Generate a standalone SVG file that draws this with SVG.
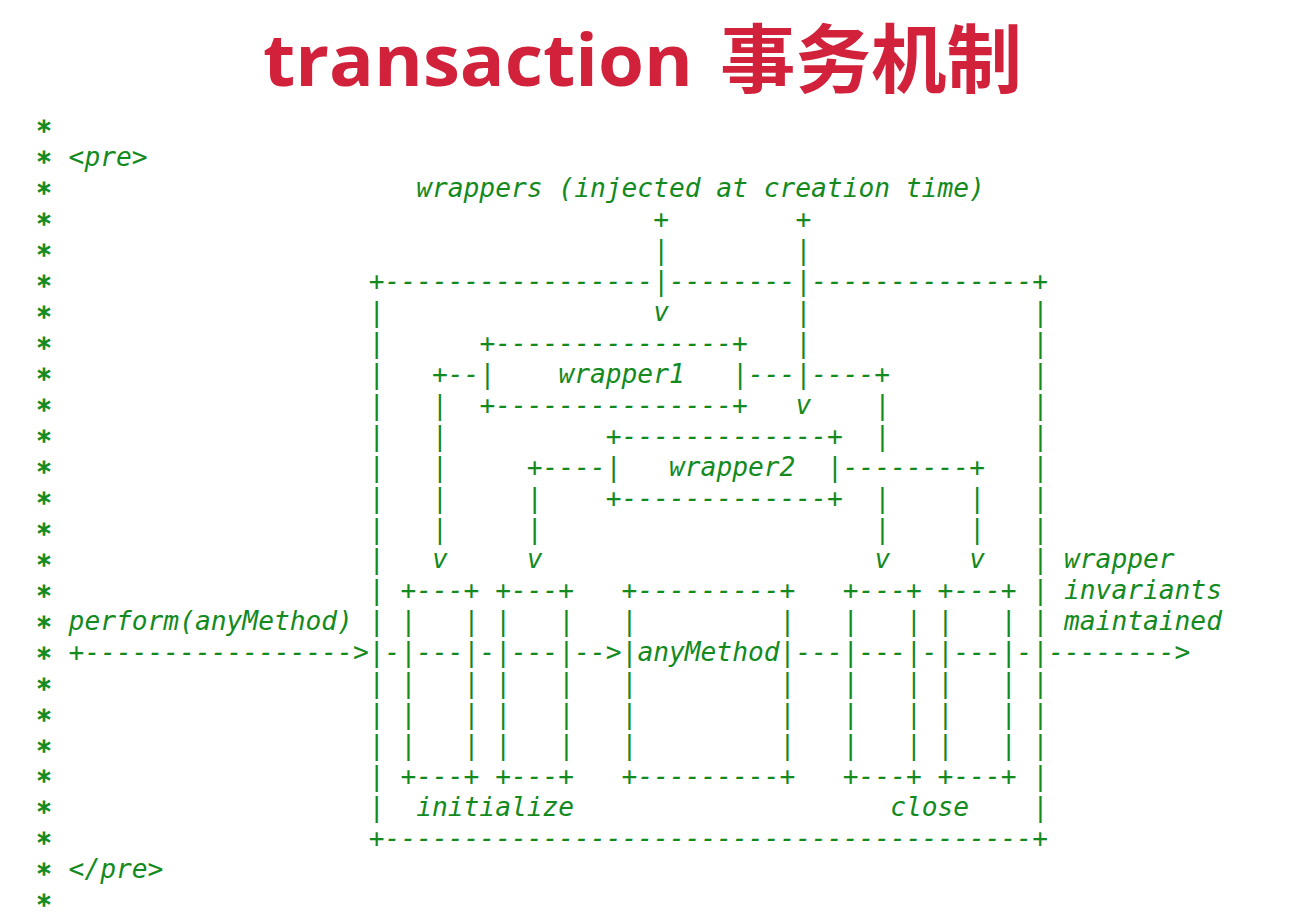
<svg xmlns="http://www.w3.org/2000/svg" width="1306" height="917" viewBox="0 0 1306 917">
<style>
  .t { font-family: "DejaVu Sans Mono", "Liberation Mono", monospace; font-size: 26.24px; font-style: italic; fill: #138a1e; white-space: pre; }
  .star { font-family: "DejaVu Sans Mono", "Liberation Mono", monospace; font-size: 26.5px; fill: #138a1e; stroke: #138a1e; stroke-width: 1px; text-anchor: middle; }
  .title { font-family: "Open Sans", "Noto Sans", sans-serif; font-weight: 700; font-size: 72px; fill: #d1213b; }
  .titlecjk { font-family: "Noto Sans CJK SC", sans-serif; font-weight: 700; font-size: 75px; fill: #d1213b; }
</style>
<rect width="1306" height="917" fill="#ffffff"/>
<g id="title">
  <text class="title" x="263" y="86" textLength="430" lengthAdjust="spacingAndGlyphs">transaction</text>
  <text class="titlecjk" x="720" y="87" textLength="302" lengthAdjust="spacingAndGlyphs">事务机制</text>
</g>
<g id="comment-gutter">
  <text class="star" x="44" y="140.3">*</text>
  <text class="star" x="44" y="171.2">*</text>
  <text class="star" x="44" y="202.2">*</text>
  <text class="star" x="44" y="233.1">*</text>
  <text class="star" x="44" y="264.1">*</text>
  <text class="star" x="44" y="295.1">*</text>
  <text class="star" x="44" y="326">*</text>
  <text class="star" x="44" y="357">*</text>
  <text class="star" x="44" y="388">*</text>
  <text class="star" x="44" y="418.9">*</text>
  <text class="star" x="44" y="449.9">*</text>
  <text class="star" x="44" y="480.8">*</text>
  <text class="star" x="44" y="511.8">*</text>
  <text class="star" x="44" y="542.8">*</text>
  <text class="star" x="44" y="573.7">*</text>
  <text class="star" x="44" y="604.7">*</text>
  <text class="star" x="44" y="635.6">*</text>
  <text class="star" x="44" y="666.6">*</text>
  <text class="star" x="44" y="697.6">*</text>
  <text class="star" x="44" y="728.5">*</text>
  <text class="star" x="44" y="759.5">*</text>
  <text class="star" x="44" y="790.4">*</text>
  <text class="star" x="44" y="821.4">*</text>
  <text class="star" x="44" y="852.4">*</text>
  <text class="star" x="44" y="883.3">*</text>
  <text class="star" x="44" y="914.3">*</text>
  <text class="t" x="68.6" y="166">&lt;pre&gt;</text>
  <text class="t" x="68.6" y="878">&lt;/pre&gt;</text>
</g>
<g id="label-wrappers">
  <text class="t" x="416.2" y="196.9">wrappers (injected at creation time)</text>
</g>
<g id="transaction-box">
  <text class="t" x="368.8" y="289.8">+-----------------</text>
  <text class="t" x="669" y="289.8">--------</text>
  <text class="t" x="811.2" y="289.8">--------------+</text>
  <text class="t"><tspan x="368.8" y="320.8">|</tspan><tspan x="368.8" y="351.7">|</tspan><tspan x="368.8" y="382.7">|</tspan><tspan x="368.8" y="413.6">|</tspan><tspan x="368.8" y="444.6">|</tspan><tspan x="368.8" y="475.6">|</tspan><tspan x="368.8" y="506.5">|</tspan><tspan x="368.8" y="537.5">|</tspan><tspan x="368.8" y="568.4">|</tspan><tspan x="368.8" y="599.4">|</tspan><tspan x="368.8" y="630.4">|</tspan><tspan x="368.8" y="661.3">|</tspan><tspan x="368.8" y="692.3">|</tspan><tspan x="368.8" y="723.2">|</tspan><tspan x="368.8" y="754.2">|</tspan><tspan x="368.8" y="785.2">|</tspan><tspan x="368.8" y="816.1">|</tspan></text>
  <text class="t"><tspan x="1032.4" y="320.8">|</tspan><tspan x="1032.4" y="351.7">|</tspan><tspan x="1032.4" y="382.7">|</tspan><tspan x="1032.4" y="413.6">|</tspan><tspan x="1032.4" y="444.6">|</tspan><tspan x="1032.4" y="475.6">|</tspan><tspan x="1032.4" y="506.5">|</tspan><tspan x="1032.4" y="537.5">|</tspan><tspan x="1032.4" y="568.4">|</tspan><tspan x="1032.4" y="599.4">|</tspan><tspan x="1032.4" y="630.4">|</tspan><tspan x="1032.4" y="661.3">|</tspan><tspan x="1032.4" y="692.3">|</tspan><tspan x="1032.4" y="723.2">|</tspan><tspan x="1032.4" y="754.2">|</tspan><tspan x="1032.4" y="785.2">|</tspan><tspan x="1032.4" y="816.1">|</tspan></text>
  <text class="t" x="368.8" y="847.1">+-----------------------------------------+</text>
</g>
<g id="wrapper1">
  <text class="t" x="479.4" y="351.7">+---------------+</text>
  <text class="t" x="479.4" y="382.7">|</text>
  <text class="t" x="558.4" y="382.7">wrapper1</text>
  <text class="t" x="732.2" y="382.7">|</text>
  <text class="t" x="479.4" y="413.6">+---------------+</text>
</g>
<g id="wrapper2">
  <text class="t" x="605.8" y="444.6">+-------------+</text>
  <text class="t" x="605.8" y="475.6">|</text>
  <text class="t" x="669" y="475.6">wrapper2</text>
  <text class="t" x="827" y="475.6">|</text>
  <text class="t" x="605.8" y="506.5">+-------------+</text>
</g>
<g id="initialize1">
  <text class="t" x="400.4" y="599.4">+---+</text>
  <text class="t"><tspan x="400.4" y="630.4">|</tspan><tspan x="400.4" y="661.3">|</tspan><tspan x="400.4" y="692.3">|</tspan><tspan x="400.4" y="723.2">|</tspan><tspan x="400.4" y="754.2">|</tspan></text>
  <text class="t"><tspan x="463.6" y="630.4">|</tspan><tspan x="463.6" y="661.3">|</tspan><tspan x="463.6" y="692.3">|</tspan><tspan x="463.6" y="723.2">|</tspan><tspan x="463.6" y="754.2">|</tspan></text>
  <text class="t" x="400.4" y="785.2">+---+</text>
</g>
<g id="initialize2">
  <text class="t" x="495.2" y="599.4">+---+</text>
  <text class="t"><tspan x="495.2" y="630.4">|</tspan><tspan x="495.2" y="661.3">|</tspan><tspan x="495.2" y="692.3">|</tspan><tspan x="495.2" y="723.2">|</tspan><tspan x="495.2" y="754.2">|</tspan></text>
  <text class="t"><tspan x="558.4" y="630.4">|</tspan><tspan x="558.4" y="661.3">|</tspan><tspan x="558.4" y="692.3">|</tspan><tspan x="558.4" y="723.2">|</tspan><tspan x="558.4" y="754.2">|</tspan></text>
  <text class="t" x="495.2" y="785.2">+---+</text>
</g>
<g id="anyMethod">
  <text class="t" x="621.6" y="599.4">+---------+</text>
  <text class="t"><tspan x="621.6" y="630.4">|</tspan><tspan x="621.6" y="661.3">|</tspan><tspan x="621.6" y="692.3">|</tspan><tspan x="621.6" y="723.2">|</tspan><tspan x="621.6" y="754.2">|</tspan></text>
  <text class="t" x="637.4" y="661.3">anyMethod</text>
  <text class="t"><tspan x="779.6" y="630.4">|</tspan><tspan x="779.6" y="661.3">|</tspan><tspan x="779.6" y="692.3">|</tspan><tspan x="779.6" y="723.2">|</tspan><tspan x="779.6" y="754.2">|</tspan></text>
  <text class="t" x="621.6" y="785.2">+---------+</text>
</g>
<g id="close1">
  <text class="t" x="842.8" y="599.4">+---+</text>
  <text class="t"><tspan x="842.8" y="630.4">|</tspan><tspan x="842.8" y="661.3">|</tspan><tspan x="842.8" y="692.3">|</tspan><tspan x="842.8" y="723.2">|</tspan><tspan x="842.8" y="754.2">|</tspan></text>
  <text class="t"><tspan x="906" y="630.4">|</tspan><tspan x="906" y="661.3">|</tspan><tspan x="906" y="692.3">|</tspan><tspan x="906" y="723.2">|</tspan><tspan x="906" y="754.2">|</tspan></text>
  <text class="t" x="842.8" y="785.2">+---+</text>
</g>
<g id="close2">
  <text class="t" x="937.6" y="599.4">+---+</text>
  <text class="t"><tspan x="937.6" y="630.4">|</tspan><tspan x="937.6" y="661.3">|</tspan><tspan x="937.6" y="692.3">|</tspan><tspan x="937.6" y="723.2">|</tspan><tspan x="937.6" y="754.2">|</tspan></text>
  <text class="t"><tspan x="1000.8" y="630.4">|</tspan><tspan x="1000.8" y="661.3">|</tspan><tspan x="1000.8" y="692.3">|</tspan><tspan x="1000.8" y="723.2">|</tspan><tspan x="1000.8" y="754.2">|</tspan></text>
  <text class="t" x="937.6" y="785.2">+---+</text>
</g>
<g id="labels">
  <text class="t" x="68.6" y="630.4">perform(anyMethod)</text>
  <text class="t" x="1064" y="568.4">wrapper</text>
  <text class="t" x="1064" y="599.4">invariants</text>
  <text class="t" x="1064" y="630.4">maintained</text>
  <text class="t" x="416.2" y="816.1">initialize</text>
  <text class="t" x="890.2" y="816.1">close</text>
</g>
<g id="connectors">
  <text class="t"><tspan x="653.2" y="227.9">+</tspan><tspan x="653.2" y="258.8">|</tspan><tspan x="653.2" y="289.8">|</tspan><tspan x="653.2" y="320.8">v</tspan></text>
  <text class="t"><tspan x="795.4" y="227.9">+</tspan><tspan x="795.4" y="258.8">|</tspan><tspan x="795.4" y="289.8">|</tspan><tspan x="795.4" y="320.8">|</tspan><tspan x="795.4" y="351.7">|</tspan><tspan x="795.4" y="382.7">|</tspan><tspan x="795.4" y="413.6">v</tspan></text>
  <text class="t" x="432" y="382.7">+--</text>
  <text class="t" x="748" y="382.7">---</text>
  <text class="t" x="811.2" y="382.7">----+</text>
  <text class="t"><tspan x="432" y="413.6">|</tspan><tspan x="432" y="444.6">|</tspan><tspan x="432" y="475.6">|</tspan><tspan x="432" y="506.5">|</tspan><tspan x="432" y="537.5">|</tspan><tspan x="432" y="568.4">v</tspan></text>
  <text class="t"><tspan x="874.4" y="413.6">|</tspan><tspan x="874.4" y="444.6">|</tspan></text>
  <text class="t" x="526.8" y="475.6">+----</text>
  <text class="t" x="842.8" y="475.6">--------+</text>
  <text class="t"><tspan x="526.8" y="506.5">|</tspan><tspan x="526.8" y="537.5">|</tspan><tspan x="526.8" y="568.4">v</tspan></text>
  <text class="t"><tspan x="874.4" y="506.5">|</tspan><tspan x="874.4" y="537.5">|</tspan><tspan x="874.4" y="568.4">v</tspan></text>
  <text class="t"><tspan x="969.2" y="506.5">|</tspan><tspan x="969.2" y="537.5">|</tspan><tspan x="969.2" y="568.4">v</tspan></text>
  <text class="t" x="68.6" y="661.3">+-----------------&gt;</text>
  <text class="t" x="384.6" y="661.3">-</text>
  <text class="t" x="416.2" y="661.3">---</text>
  <text class="t" x="479.4" y="661.3">-</text>
  <text class="t" x="511" y="661.3">---</text>
  <text class="t" x="574.2" y="661.3">--&gt;</text>
  <text class="t" x="795.4" y="661.3">---</text>
  <text class="t" x="858.6" y="661.3">---</text>
  <text class="t" x="921.8" y="661.3">-</text>
  <text class="t" x="953.4" y="661.3">---</text>
  <text class="t" x="1016.6" y="661.3">-</text>
  <text class="t" x="1048.2" y="661.3">--------&gt;</text>
</g>
</svg>
